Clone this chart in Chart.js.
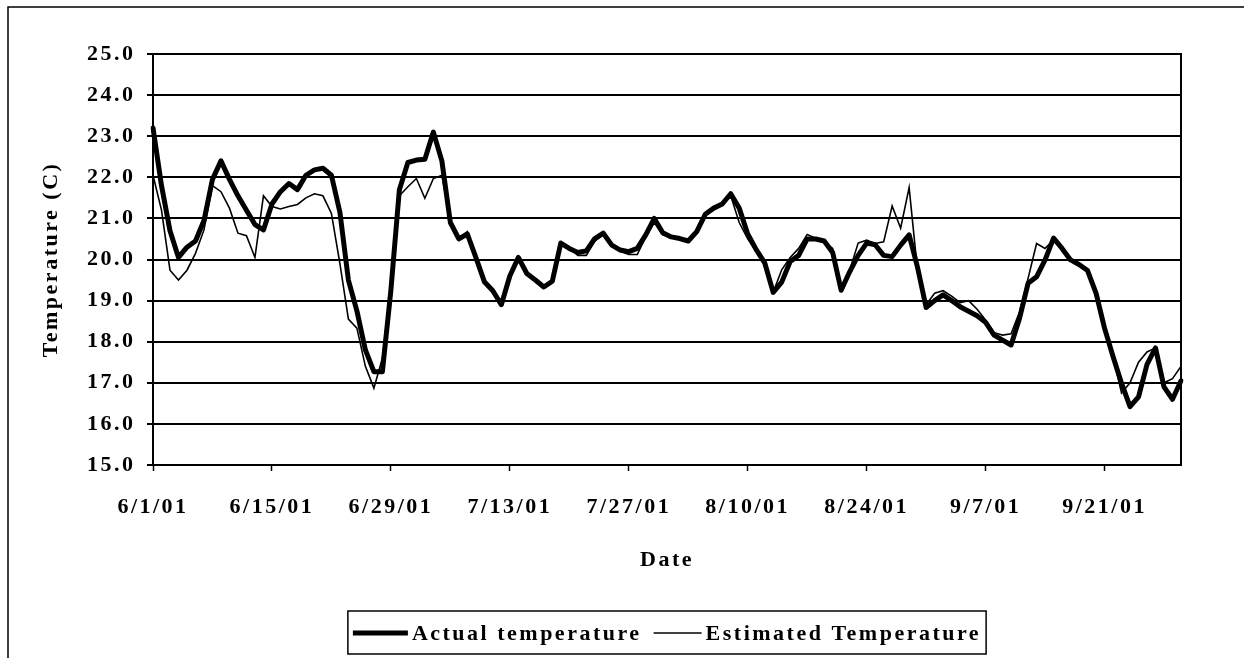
<!DOCTYPE html>
<html>
<head>
<meta charset="utf-8">
<title>Actual and estimated temperature</title>
<script src="https://cdn.jsdelivr.net/npm/chart.js@4.4.1/dist/chart.umd.min.js"></script>
<style>
	body { margin: 0; background: #fff; }
	#wrap { width: 1244px; height: 658px; position: relative; }
</style>
</head>
<body>
<div id="wrap"><canvas id="myChart"></canvas></div>
<script>
//months in the record: [month, days in month]
var months = [[6, 30], [7, 31], [8, 31], [9, 30]];
//one date label every two weeks
var tickEvery = 14;

//daily temperature (C), 6/1/01 to 9/30/01
var actualTemp = [
	23.2, 21.8, 20.7, 20.05, 20.3, 20.45, 20.95, 21.95, 22.4, 21.95,
	21.55, 21.2, 20.85, 20.72, 21.35, 21.65, 21.85, 21.7, 22.05, 22.18,
	22.22, 22.05, 21.15, 19.5, 18.75, 17.8, 17.27, 17.27, 19.25, 21.7,
	22.36, 22.42, 22.44, 23.1, 22.4, 20.9, 20.5, 20.62, 20.05, 19.46,
	19.24, 18.9, 19.6, 20.05, 19.66, 19.5, 19.33, 19.47, 20.4, 20.27,
	20.17, 20.21, 20.51, 20.64, 20.35, 20.23, 20.19, 20.27, 20.6, 21.0,
	20.65, 20.55, 20.51, 20.45, 20.68, 21.1, 21.25, 21.35, 21.6, 21.25,
	20.62, 20.24, 19.92, 19.2, 19.45, 19.95, 20.1, 20.5, 20.5, 20.45,
	20.17, 19.25, 19.7, 20.1, 20.4, 20.36, 20.1, 20.07, 20.35, 20.6,
	19.8, 18.83, 19.0, 19.14, 19.0, 18.85, 18.74, 18.63, 18.47, 18.16,
	18.04, 17.92, 18.57, 19.42, 19.58, 19.99, 20.52, 20.27, 19.99, 19.88,
	19.73, 19.18, 18.33, 17.64, 16.99, 16.42, 16.66, 17.45, 17.85, 16.9,
	16.6, 17.05
];
var estimatedTemp = [
	22.05, 21.2, 19.74, 19.5, 19.74, 20.15, 20.72, 21.8, 21.65, 21.25,
	20.64, 20.58, 20.05, 21.55, 21.29, 21.23, 21.29, 21.34, 21.5, 21.6,
	21.55, 21.12, 19.9, 18.55, 18.33, 17.4, 16.87, 17.6, 19.4, 21.55,
	21.77, 21.97, 21.49, 21.97, 22.05, 20.95, 20.5, 20.68, 20.05, 19.46,
	19.25, 18.95, 19.6, 20.05, 19.7, 19.5, 19.35, 19.45, 20.4, 20.3,
	20.1, 20.1, 20.45, 20.6, 20.35, 20.2, 20.12, 20.12, 20.55, 20.9,
	20.6, 20.55, 20.5, 20.45, 20.7, 21.1, 21.25, 21.35, 21.55, 20.9,
	20.5, 20.2, 19.85, 19.2, 19.75, 20.05, 20.27, 20.61, 20.52, 20.43,
	20.27, 19.32, 19.74, 20.4, 20.47, 20.39, 20.43, 21.3, 20.76, 21.75,
	19.7, 18.9, 19.18, 19.24, 19.11, 18.95, 19.0, 18.79, 18.53, 18.22,
	18.16, 18.19, 18.73, 19.54, 20.39, 20.27, 20.47, 20.27, 19.99, 19.88,
	19.73, 19.18, 18.33, 17.64, 16.75, 17.0, 17.5, 17.75, 17.85, 17.0,
	17.1, 17.4
];

//y axis range
var yMin = 15;
var yMax = 25;
var yStep = 1;

//build the date categories m/d/01
var dates = [];
months.forEach(function(m){
	for(var d = 1; d <= m[1]; d++){
		dates.push(m[0] + '/' + d + '/01');
	}
});

var serif = "'Liberation Serif', 'Times New Roman', serif";
var spacing = '2.5px';
Chart.defaults.font.family = serif;
Chart.defaults.font.size = 22;
Chart.defaults.font.weight = 'bold';
Chart.defaults.color = '#000';

//frame of the plot, outer border and the boxed legend
var framePlugin = {
	id: 'frame',
	beforeDraw: function(chart){
		chart.ctx.letterSpacing = spacing;
	},
	afterDraw: function(chart){
		var ctx = chart.ctx;
		var a = chart.chartArea;
		ctx.save();
		ctx.strokeStyle = '#000';
		ctx.lineWidth = 2;
		ctx.strokeRect(a.left, a.top, a.right - a.left, a.bottom - a.top);

		//outer border, only top and left show in the scan
		ctx.lineWidth = 1.5;
		ctx.beginPath();
		ctx.moveTo(8, 658);
		ctx.lineTo(8, 7);
		ctx.lineTo(1244, 7);
		ctx.stroke();

		//legend
		ctx.font = 'bold 22px ' + serif;
		ctx.letterSpacing = spacing;
		ctx.textBaseline = 'middle';
		ctx.textAlign = 'left';
		var sets = chart.data.datasets;
		var sample = [55, 48];
		var widths = sets.map(function(ds){ return ctx.measureText(ds.label).width; });
		var total = 5 + sample[0] + 4 + widths[0] + 12 + sample[1] + 4 + widths[1] + 5;
		var left = (a.left + a.right) / 2 - total / 2;
		var top = 611, bottom = 654, mid = 633;
		ctx.lineWidth = 1.5;
		ctx.strokeRect(left, top, total, bottom - top);
		var x = left + 5;
		for(var i = 0; i < sets.length; i++){
			ctx.lineWidth = sets[i].borderWidth;
			ctx.beginPath();
			ctx.moveTo(x, mid);
			ctx.lineTo(x + sample[i], mid);
			ctx.stroke();
			x += sample[i] + 4;
			ctx.fillStyle = '#000';
			ctx.fillText(sets[i].label, x, mid + 1);
			x += widths[i] + 12;
		}
		ctx.restore();
	}
};

var ctx = document.getElementById('myChart');
var myChart = new Chart(ctx, {
	type: 'line',
	data: {
		labels: dates,
		datasets: [
			{
				label: 'Actual temperature',
				data: actualTemp,
				borderColor: '#000',
				backgroundColor: '#000',
				borderWidth: 5,
				borderJoinStyle: 'round',
				borderCapStyle: 'round',
				pointRadius: 0,
				tension: 0
			},
			{
				label: 'Estimated Temperature',
				data: estimatedTemp,
				borderColor: '#000',
				backgroundColor: '#000',
				borderWidth: 1.6,
				pointRadius: 0,
				tension: 0
			}
		]
	},
	options: {
		responsive: true,
		maintainAspectRatio: false,
		animation: false,
		events: [],
		layout: { padding: { left: 38, right: 63, top: 54, bottom: 84 } },
		plugins: {
			legend: { display: false },
			tooltip: { enabled: false }
		},
		scales: {
			x: {
				type: 'category',
				offset: false,
				grid: { drawOnChartArea: false, drawTicks: true, tickLength: 6, tickColor: '#000', tickWidth: 1.5 },
				border: { display: true, color: '#000', width: 2 },
				ticks: { autoSkip: false, maxRotation: 0, minRotation: 0, padding: 23 },
				title: { display: true, text: 'Date', padding: 0 },
				afterBuildTicks: function(scale){
					scale.ticks = scale.ticks.filter(function(t){ return t.value % tickEvery === 0; });
				},
				afterFit: function(scale){ scale.height = 109; }
			},
			y: {
				min: yMin,
				max: yMax,
				ticks: {
					stepSize: yStep,
					padding: 11.5,
					callback: function(v){ return v.toFixed(1); }
				},
				grid: { color: '#000', lineWidth: 2, tickLength: 6 },
				border: { color: '#000', width: 2 },
				title: { display: true, text: 'Temperature (C)', padding: 0 },
				afterFit: function(scale){ scale.width = 115; }
			}
		}
	},
	plugins: [framePlugin]
});
</script>
</body>
</html>
